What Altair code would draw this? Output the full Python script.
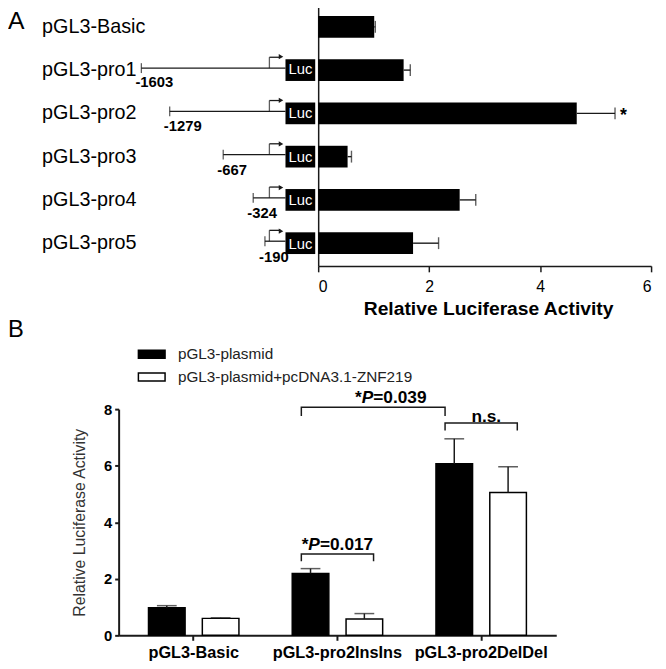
import altair as alt
import pandas as pd

# ---------------- data: panel A ----------------
constructs = ["pGL3-Basic", "pGL3-pro1", "pGL3-pro2", "pGL3-pro3", "pGL3-pro4", "pGL3-pro5"]
activity_a = [1.01, 1.54, 4.66, 0.53, 2.55, 1.71]
upper_a = [1.03, 1.66, 5.35, 0.60, 2.84, 2.17]
signif_a = ["", "", "*", "", "", ""]
ticks_a = [0, 2, 4, 6]

promoters = ["pGL3-pro1", "pGL3-pro2", "pGL3-pro3", "pGL3-pro4", "pGL3-pro5"]
promoter_start = [-1603, -1279, -667, -324, -190]
promoter_text = ["-1603", "-1279", "-667", "-324", "-190"]
tss_bp = -139
arrow_tip_bp = -6
luc_start_bp = 45
luc_end_bp = 385

# ---------------- data: panel B ----------------
groups = ["pGL3-Basic", "pGL3-pro2InsIns", "pGL3-pro2DelDel"]
series = ["pGL3-plasmid", "pGL3-plasmid+pcDNA3.1-ZNF219"]
activity_plasmid = [0.98, 2.19, 6.07]
upper_plasmid = [1.05, 2.36, 6.95]
activity_znf = [0.60, 0.58, 5.05]
upper_znf = [0.62, 0.77, 5.96]
ticks_b = [0, 2, 4, 6, 8]

bracket_id = ["p017"] * 4 + ["p039"] * 4 + ["ns"] * 4
bracket_idx = [0, 1, 2, 3] * 3
bracket_group = [groups[1]] * 4 + [groups[1], groups[1], groups[2], groups[2]] + [groups[2]] * 4
bracket_series = [series[0], series[0], series[1], series[1],
                  series[0], series[0], series[0], series[0],
                  series[0], series[0], series[1], series[1]]
bracket_y = [2.62, 2.875, 2.875, 2.62, 7.76, 8.07, 8.07, 7.76, 7.24, 7.51, 7.51, 7.24]

# annotations: (group, y value, centre shift in px, pieces (text, italic))
annotations = [
    (groups[1], 3.21, 0, [("*", False), ("P", True), ("=0.017", False)]),
    (groups[1], 8.38, 54, [("*", False), ("P", True), ("=0.039", False)]),
    (groups[2], 7.73, 3, [("n.s.", False)]),
]

# ---------------- layout ----------------
W, H = 658, 661
FONT = "Liberation Sans, Arial, Helvetica, sans-serif"
INK = "#1a1a1a"

# ---------------- panel A ----------------
scale_ya = alt.Scale(domain=constructs, range=[-8, 257], paddingInner=0.498, paddingOuter=0.274)
scale_xa = alt.Scale(domain=[0, 6], range=[314, 651], nice=False)
scale_bp = alt.Scale(domain=[-1603, 385], range=[135, 311], nice=False, zero=False)

axis_ya = alt.Axis(orient="left", offset=-314, title=None, ticks=False, tickSize=0,
                   labelAlign="left", labelBaseline="middle", labelPadding=280,
                   labelFont=FONT, labelFontSize=20, labelColor="black", labelLimit=300,
                   domainColor=INK, domainWidth=1.5, grid=False)
axis_xa = alt.Axis(orient="bottom", offset=257 - H, values=ticks_a, format="d", grid=False,
                   tickSize=6, tickColor=INK, tickWidth=1.5, domainColor=INK, domainWidth=1.5,
                   labelFont=FONT, labelFontSize=16, labelColor="black", labelPadding=7,
                   title="Relative Luciferase Activity", titleFont=FONT, titleFontSize=19.5,
                   titleFontWeight="bold", titleColor="black", titleX=486, titleY=43,
                   titleAlign="center", titleBaseline="middle")

df_a = pd.DataFrame({"construct": constructs, "activity": activity_a,
                     "upper": upper_a, "sig": signif_a})
ya = alt.Y("construct:N", sort=constructs, scale=scale_ya, axis=None)
base_a = alt.Chart(df_a)

bars_a = base_a.mark_bar(color="black").encode(
    x=alt.X("activity:Q", scale=scale_xa, axis=axis_xa),
    y=alt.Y("construct:N", sort=constructs, scale=scale_ya, axis=axis_ya),
)
err_a = base_a.mark_rule(color=INK, strokeWidth=1.4).encode(
    x=alt.X("activity:Q", scale=scale_xa, axis=None), x2="upper:Q", y=ya)
cap_a = base_a.mark_tick(color=INK, size=12, thickness=1.4).encode(
    x=alt.X("upper:Q", scale=scale_xa, axis=None), y=ya)
star_a = base_a.transform_filter("datum.sig != ''").mark_text(
    fontSize=18, fontWeight="bold", dx=8.5, dy=3, font=FONT, color="black"
).encode(x=alt.X("upper:Q", scale=scale_xa, axis=None), y=ya, text="sig:N")

# ---------------- panel A: promoter diagrams ----------------
df_d = pd.DataFrame({"construct": promoters, "start": promoter_start, "label": promoter_text})
df_d["tss"] = tss_bp
df_d["tip"] = arrow_tip_bp
df_d["luc0"] = luc_start_bp
df_d["luc1"] = luc_end_bp
df_d["lucmid"] = (luc_start_bp + luc_end_bp) / 2
df_d["luc"] = "Luc"
base_d = alt.Chart(df_d)


def xbp(f):
    return alt.X(f, scale=scale_bp, axis=None)


line_d = base_d.mark_rule(color=INK, strokeWidth=1.3, yOffset=-2).encode(
    x=xbp("start:Q"), x2="luc0:Q", y=ya)
stick_d = base_d.mark_tick(color=INK, size=10, thickness=1.3, yOffset=-2).encode(
    x=xbp("start:Q"), y=ya)
tssv_d = base_d.mark_tick(color=INK, size=11, thickness=1.3, yOffset=-7.5).encode(
    x=xbp("tss:Q"), y=ya)
tssh_d = base_d.mark_rule(color=INK, strokeWidth=1.3, yOffset=-13).encode(
    x=xbp("tss:Q"), x2="tip:Q", y=ya)
head_d = base_d.mark_point(shape="triangle-right", filled=True, size=28, color=INK,
                           opacity=1, yOffset=-13).encode(x=xbp("tip:Q"), y=ya)
box_d = base_d.mark_bar(color="black").encode(x=xbp("luc0:Q"), x2="luc1:Q", y=ya)
luc_d = base_d.mark_text(color="white", fontSize=15, font=FONT).encode(
    x=xbp("lucmid:Q"), y=ya, text="luc:N")
lab_d = base_d.mark_text(align="left", dx=-6, dy=13, fontSize=15, fontWeight="bold",
                         font=FONT, color="black").encode(x=xbp("start:Q"), y=ya, text="label:N")

# ---------------- panel B ----------------
df_b = pd.DataFrame({
    "group": groups * 2,
    "series": [series[0]] * 3 + [series[1]] * 3,
    "activity": activity_plasmid + activity_znf,
    "upper": upper_plasmid + upper_znf,
})
scale_xb = alt.Scale(domain=groups, range=[112, 555], paddingInner=0, paddingOuter=0.0223)
scale_ob = alt.Scale(domain=series, paddingInner=0.32, paddingOuter=0.495)
scale_yb = alt.Scale(domain=[0, 8], range=[631, 402], nice=False)

axis_xb = alt.Axis(orient="bottom", offset=631 - H, title=None, tickSize=5, tickColor=INK,
                   tickWidth=2, domainColor=INK, domainWidth=2, labelFont=FONT,
                   labelFontSize=16.5, labelFontWeight="bold", labelColor="black",
                   labelPadding=4, labelAngle=0, grid=False, bandPosition=0.5)
axis_yb = alt.Axis(orient="left", offset=-112, values=ticks_b, format="d", tickSize=4,
                   tickColor=INK, tickWidth=2, domainColor=INK, domainWidth=2,
                   labelFont=FONT, labelFontSize=15, labelFontWeight="bold",
                   labelColor="black", labelPadding=3, grid=False,
                   title="Relative Luciferase Activity", titleFont=FONT, titleFontSize=16,
                   titleFontWeight="normal", titleColor="#333", titleX=-40, titleY=516.5,
                   titleAngle=270, titleAlign="center", titleBaseline="middle")
legend_b = alt.Legend(orient="none", legendX=131, legendY=332, title=None,
                      symbolType="M-1,-0.3H1V0.3H-1Z", symbolSize=729,
                      symbolStrokeColor="black", symbolStrokeWidth=1.5,
                      labelFont=FONT, labelFontSize=15.5, labelColor="#222", labelLimit=400,
                      labelOffset=12, rowPadding=0, padding=0, labelBaseline="middle")

xb = alt.X("group:N", sort=groups, scale=scale_xb, axis=None)
ob = alt.XOffset("series:N", sort=series, scale=scale_ob)
base_b = alt.Chart(df_b)

bars_b = base_b.mark_bar(stroke="black", strokeWidth=1.5).encode(
    x=alt.X("group:N", sort=groups, scale=scale_xb, axis=axis_xb),
    xOffset=ob,
    y=alt.Y("activity:Q", scale=scale_yb, axis=axis_yb),
    fill=alt.Fill("series:N", sort=series,
                  scale=alt.Scale(domain=series, range=["black", "white"]), legend=legend_b),
)
err_b = base_b.mark_rule(color=INK, strokeWidth=1.5).encode(
    x=xb, xOffset=ob, y=alt.Y("activity:Q", scale=scale_yb, axis=None), y2="upper:Q")
cap_b = base_b.mark_tick(color=INK, size=20, thickness=1.5).encode(
    x=xb, xOffset=ob, y=alt.Y("upper:Q", scale=scale_yb, axis=None))

df_br = pd.DataFrame({"bid": bracket_id, "idx": bracket_idx, "group": bracket_group,
                      "series": bracket_series, "yv": bracket_y})
brackets = alt.Chart(df_br).mark_line(color=INK, strokeWidth=1.5).encode(
    x=xb, xOffset=ob, y=alt.Y("yv:Q", scale=scale_yb, axis=None),
    detail="bid:N", order="idx:Q")

ANN_FS = 17.5
adv = {"*": 0.389, "P": 0.667, "=": 0.584, ".": 0.278, "n": 0.611, "s": 0.556}


def tw(s):
    return sum(adv.get(c, 0.556) for c in s) * ANN_FS


ann_marks = []
for grp, yv, shift, pieces in annotations:
    total = sum(tw(t) for t, _ in pieces)
    x0 = shift - total / 2
    for t, ital in pieces:
        dfa = pd.DataFrame({"group": [grp], "yv": [yv], "t": [t]})
        ann_marks.append(
            alt.Chart(dfa).mark_text(align="left", baseline="middle", dx=x0, fontSize=ANN_FS,
                                     fontWeight="bold", fontStyle="italic" if ital else "normal",
                                     font=FONT, color="black").encode(
                x=xb, y=alt.Y("yv:Q", scale=scale_yb, axis=None), text="t:N"))
        x0 += tw(t)

# ---------------- panel letters ----------------
letter_a = alt.Chart(pd.DataFrame({"t": ["A"]})).mark_text(
    align="left", baseline="alphabetic", fontSize=25, font=FONT, color="black"
).encode(x=alt.value(0), y=alt.value(17), text="t:N")
letter_b = alt.Chart(pd.DataFrame({"t": ["B"]})).mark_text(
    align="left", baseline="alphabetic", fontSize=24, font=FONT, color="black"
).encode(x=alt.value(0), y=alt.value(329), text="t:N")

chart = alt.layer(
    bars_a, err_a, cap_a, star_a,
    line_d, stick_d, tssv_d, tssh_d, head_d, box_d, luc_d, lab_d,
    bars_b, err_b, cap_b, brackets, *ann_marks,
    letter_a, letter_b,
).resolve_scale(
    x="independent", y="independent", xOffset="independent"
).resolve_axis(x="independent", y="independent").properties(
    width=W, height=H, padding=0, autosize=alt.AutoSizeParams(type="none")
).configure_view(stroke=None)

chart.save("out.html", embed_options={"renderer": "svg", "actions": False})
